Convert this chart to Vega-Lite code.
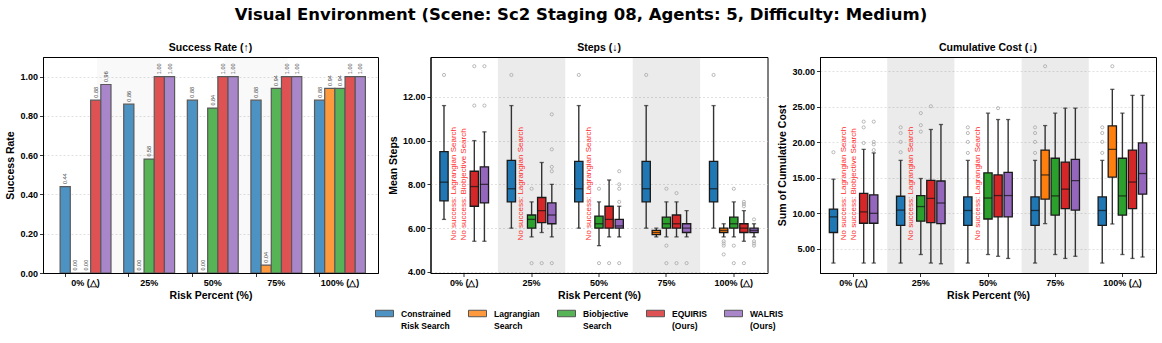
{
"$schema":"https://vega.github.io/schema/vega-lite/v6.json",
"background":"white",
"padding":{"left":5,"top":6,"right":5,"bottom":5},
"title":{"text":"Visual Environment (Scene: Sc2 Staging 08, Agents: 5, Difficulty: Medium)","font":"DejaVu Sans","fontSize":16.5,"fontWeight":"bold","anchor":"middle","frame":"bounds","offset":19},
"bounds":"flush",
"spacing":52.5,
"resolve":{"scale":{"x":"independent","xOffset":"independent","y":"independent","color":"independent","fill":"independent"}},
"datasets":{
"shade":[{"risk":"25%"},{"risk":"75%"}],
"success":[
{"risk":"0% (△)","method":"CRS","rate":0.44},{"risk":"0% (△)","method":"LAG","rate":0},{"risk":"0% (△)","method":"BIO","rate":0},{"risk":"0% (△)","method":"EQ","rate":0.88},{"risk":"0% (△)","method":"WAL","rate":0.96},
{"risk":"25%","method":"CRS","rate":0.86},{"risk":"25%","method":"LAG","rate":0},{"risk":"25%","method":"BIO","rate":0.58},{"risk":"25%","method":"EQ","rate":1.0},{"risk":"25%","method":"WAL","rate":1.0},
{"risk":"50%","method":"CRS","rate":0.88},{"risk":"50%","method":"LAG","rate":0},{"risk":"50%","method":"BIO","rate":0.84},{"risk":"50%","method":"EQ","rate":1.0},{"risk":"50%","method":"WAL","rate":1.0},
{"risk":"75%","method":"CRS","rate":0.88},{"risk":"75%","method":"LAG","rate":0.04},{"risk":"75%","method":"BIO","rate":0.94},{"risk":"75%","method":"EQ","rate":1.0},{"risk":"75%","method":"WAL","rate":1.0},
{"risk":"100% (△)","method":"CRS","rate":0.88},{"risk":"100% (△)","method":"LAG","rate":0.94},{"risk":"100% (△)","method":"BIO","rate":0.94},{"risk":"100% (△)","method":"EQ","rate":1.0},{"risk":"100% (△)","method":"WAL","rate":1.0}],
"steps":[
{"risk":"0% (△)","method":"CRS","lo":6.4,"q1":7.25,"med":8.1,"q3":9.5,"hi":11.6},
{"risk":"0% (△)","method":"EQ","lo":5.4,"q1":7.0,"med":7.9,"q3":8.6,"hi":10.0},
{"risk":"0% (△)","method":"WAL","lo":5.4,"q1":7.15,"med":8.0,"q3":8.8,"hi":10.4},
{"risk":"25%","method":"CRS","lo":6.0,"q1":7.2,"med":7.8,"q3":9.1,"hi":11.6},
{"risk":"25%","method":"BIO","lo":5.6,"q1":6.0,"med":6.4,"q3":6.6,"hi":7.2},
{"risk":"25%","method":"EQ","lo":5.8,"q1":6.25,"med":6.8,"q3":7.4,"hi":9.0},
{"risk":"25%","method":"WAL","lo":5.6,"q1":6.2,"med":6.6,"q3":7.15,"hi":8.0},
{"risk":"50%","method":"CRS","lo":6.0,"q1":7.2,"med":7.8,"q3":9.05,"hi":11.6},
{"risk":"50%","method":"BIO","lo":5.2,"q1":6.0,"med":6.2,"q3":6.55,"hi":7.2},
{"risk":"50%","method":"EQ","lo":5.6,"q1":6.0,"med":6.4,"q3":7.0,"hi":8.2},
{"risk":"50%","method":"WAL","lo":5.6,"q1":6.0,"med":6.1,"q3":6.4,"hi":7.0},
{"risk":"75%","method":"CRS","lo":6.0,"q1":7.2,"med":7.8,"q3":9.05,"hi":11.6},
{"risk":"75%","method":"LAG","lo":5.6,"q1":5.7,"med":5.8,"q3":5.9,"hi":6.0},
{"risk":"75%","method":"BIO","lo":5.6,"q1":6.0,"med":6.2,"q3":6.5,"hi":7.2},
{"risk":"75%","method":"EQ","lo":5.6,"q1":6.0,"med":6.2,"q3":6.6,"hi":7.2},
{"risk":"75%","method":"WAL","lo":5.6,"q1":5.8,"med":6.0,"q3":6.2,"hi":6.8},
{"risk":"100% (△)","method":"CRS","lo":6.0,"q1":7.2,"med":7.8,"q3":9.05,"hi":11.6},
{"risk":"100% (△)","method":"LAG","lo":5.6,"q1":5.8,"med":5.9,"q3":6.0,"hi":6.2},
{"risk":"100% (△)","method":"BIO","lo":5.6,"q1":6.0,"med":6.2,"q3":6.5,"hi":7.2},
{"risk":"100% (△)","method":"EQ","lo":5.4,"q1":5.8,"med":6.0,"q3":6.2,"hi":6.8},
{"risk":"100% (△)","method":"WAL","lo":5.6,"q1":5.8,"med":5.9,"q3":6.0,"hi":6.2}],
"steps_out":[
{"risk":"0% (△)","method":"CRS","v":13.0},{"risk":"0% (△)","method":"EQ","v":13.4},{"risk":"0% (△)","method":"EQ","v":11.6},{"risk":"0% (△)","method":"WAL","v":13.4},{"risk":"0% (△)","method":"WAL","v":11.6},
{"risk":"25%","method":"CRS","v":13.0},{"risk":"25%","method":"BIO","v":7.8},{"risk":"25%","method":"BIO","v":4.4},{"risk":"25%","method":"EQ","v":4.4},{"risk":"25%","method":"WAL","v":11.2},{"risk":"25%","method":"WAL","v":9.6},{"risk":"25%","method":"WAL","v":8.8},{"risk":"25%","method":"WAL","v":8.6},{"risk":"25%","method":"WAL","v":4.4},
{"risk":"50%","method":"CRS","v":13.0},{"risk":"50%","method":"BIO","v":7.8},{"risk":"50%","method":"BIO","v":4.4},{"risk":"50%","method":"EQ","v":4.4},{"risk":"50%","method":"WAL","v":8.6},{"risk":"50%","method":"WAL","v":8.0},{"risk":"50%","method":"WAL","v":7.8},{"risk":"50%","method":"WAL","v":7.2},{"risk":"50%","method":"WAL","v":4.4},
{"risk":"75%","method":"CRS","v":13.0},{"risk":"75%","method":"BIO","v":7.8},{"risk":"75%","method":"BIO","v":5.2},{"risk":"75%","method":"BIO","v":4.4},{"risk":"75%","method":"EQ","v":7.6},{"risk":"75%","method":"EQ","v":4.4},{"risk":"75%","method":"WAL","v":4.4},
{"risk":"100% (△)","method":"CRS","v":13.0},{"risk":"100% (△)","method":"LAG","v":5.4},{"risk":"100% (△)","method":"LAG","v":5.3},{"risk":"100% (△)","method":"LAG","v":5.2},{"risk":"100% (△)","method":"LAG","v":4.8},{"risk":"100% (△)","method":"BIO","v":7.8},{"risk":"100% (△)","method":"BIO","v":5.2},{"risk":"100% (△)","method":"BIO","v":4.4},{"risk":"100% (△)","method":"EQ","v":7.2},{"risk":"100% (△)","method":"EQ","v":7.1},{"risk":"100% (△)","method":"EQ","v":7.0},{"risk":"100% (△)","method":"EQ","v":4.4},{"risk":"100% (△)","method":"WAL","v":6.4},{"risk":"100% (△)","method":"WAL","v":5.4},{"risk":"100% (△)","method":"WAL","v":5.3},{"risk":"100% (△)","method":"WAL","v":5.2}],
"cost":[
{"risk":"0% (△)","method":"CRS","lo":3.0,"q1":7.3,"med":9.5,"q3":10.6,"hi":14.8},
{"risk":"0% (△)","method":"EQ","lo":3.0,"q1":8.6,"med":10.2,"q3":12.8,"hi":19.0},
{"risk":"0% (△)","method":"WAL","lo":3.0,"q1":8.6,"med":10.0,"q3":12.6,"hi":18.5},
{"risk":"25%","method":"CRS","lo":3.0,"q1":8.3,"med":10.45,"q3":12.4,"hi":17.45},
{"risk":"25%","method":"BIO","lo":4.2,"q1":8.9,"med":10.95,"q3":12.5,"hi":14.9},
{"risk":"25%","method":"EQ","lo":3.0,"q1":8.7,"med":12.1,"q3":14.65,"hi":21.8},
{"risk":"25%","method":"WAL","lo":2.9,"q1":8.55,"med":11.45,"q3":14.55,"hi":22.5},
{"risk":"50%","method":"CRS","lo":3.0,"q1":8.3,"med":10.4,"q3":12.3,"hi":17.45},
{"risk":"50%","method":"BIO","lo":4.2,"q1":9.2,"med":12.15,"q3":15.7,"hi":24.1},
{"risk":"50%","method":"EQ","lo":3.95,"q1":9.5,"med":12.5,"q3":15.4,"hi":23.2},
{"risk":"50%","method":"WAL","lo":3.65,"q1":9.5,"med":12.5,"q3":15.75,"hi":23.2},
{"risk":"75%","method":"CRS","lo":3.0,"q1":8.3,"med":10.4,"q3":12.3,"hi":17.45},
{"risk":"75%","method":"LAG","lo":8.55,"q1":12.0,"med":15.4,"q3":18.9,"hi":22.35},
{"risk":"75%","method":"BIO","lo":4.2,"q1":9.75,"med":12.45,"q3":17.75,"hi":24.1},
{"risk":"75%","method":"EQ","lo":3.65,"q1":10.65,"med":13.4,"q3":17.2,"hi":24.8},
{"risk":"75%","method":"WAL","lo":3.95,"q1":10.45,"med":14.6,"q3":17.6,"hi":24.8},
{"risk":"100% (△)","method":"CRS","lo":3.0,"q1":8.3,"med":10.4,"q3":12.3,"hi":17.45},
{"risk":"100% (△)","method":"LAG","lo":8.5,"q1":15.1,"med":19.0,"q3":22.3,"hi":27.45},
{"risk":"100% (△)","method":"BIO","lo":4.2,"q1":9.75,"med":12.45,"q3":17.75,"hi":24.1},
{"risk":"100% (△)","method":"EQ","lo":3.65,"q1":10.65,"med":14.4,"q3":18.9,"hi":26.6},
{"risk":"100% (△)","method":"WAL","lo":3.85,"q1":12.7,"med":15.6,"q3":19.9,"hi":26.6}],
"cost_out":[
{"risk":"0% (△)","method":"CRS","v":18.6},{"risk":"0% (△)","method":"EQ","v":22.9},{"risk":"0% (△)","method":"EQ","v":22.1},{"risk":"0% (△)","method":"EQ","v":19.9},{"risk":"0% (△)","method":"WAL","v":22.9},{"risk":"0% (△)","method":"WAL","v":20.05},{"risk":"0% (△)","method":"WAL","v":19.7},{"risk":"0% (△)","method":"WAL","v":18.9},
{"risk":"25%","method":"CRS","v":22.1},{"risk":"25%","method":"CRS","v":21.3},{"risk":"25%","method":"CRS","v":20.05},{"risk":"25%","method":"CRS","v":18.6},{"risk":"25%","method":"BIO","v":24.1},{"risk":"25%","method":"BIO","v":22.4},{"risk":"25%","method":"BIO","v":21.5},{"risk":"25%","method":"EQ","v":25.07},
{"risk":"50%","method":"CRS","v":22.1},{"risk":"50%","method":"CRS","v":21.3},{"risk":"50%","method":"CRS","v":20.05},{"risk":"50%","method":"CRS","v":18.5},{"risk":"50%","method":"EQ","v":24.8},
{"risk":"75%","method":"CRS","v":22.1},{"risk":"75%","method":"CRS","v":21.3},{"risk":"75%","method":"CRS","v":20.05},{"risk":"75%","method":"CRS","v":18.5},{"risk":"75%","method":"LAG","v":30.7},
{"risk":"100% (△)","method":"CRS","v":22.1},{"risk":"100% (△)","method":"CRS","v":21.3},{"risk":"100% (△)","method":"CRS","v":20.05},{"risk":"100% (△)","method":"CRS","v":18.5},{"risk":"100% (△)","method":"LAG","v":30.7}],
"nosuccess":[
{"risk":"0% (△)","method":"LAG","label":"No success: Lagrangian Search"},
{"risk":"0% (△)","method":"BIO","label":"No success: Biobjective Search"},
{"risk":"25%","method":"LAG","label":"No success: Lagrangian Search"},
{"risk":"50%","method":"LAG","label":"No success: Lagrangian Search"}]
},
"hconcat":[
{"width":335,"height":216,"title":"Success Rate (↑)",
"layer":[
{"data":{"name":"shade"},"mark":{"type":"rect","color":"black","opacity":0.025},
"encoding":{"x":{"field":"risk","type":"nominal","bandPosition":-0.525,"scale":{"domain":["0% (△)","25%","50%","75%","100% (△)"],"paddingInner":0.2,"paddingOuter":0.2335,"align":0.576},"axis":{"title":"Risk Percent (%)","bandPosition":0.1,"labelAngle":0}},"x2":{"field":"risk","bandPosition":0.725}}},
{"data":{"name":"success"},"mark":{"type":"bar","stroke":"#595959","strokeWidth":1.2},
"encoding":{
"x":{"field":"risk","type":"nominal","scale":{"domain":["0% (△)","25%","50%","75%","100% (△)"],"paddingInner":0.2,"paddingOuter":0.2335,"align":0.576},"axis":{"title":"Risk Percent (%)","bandPosition":0.1,"labelAngle":0}},
"xOffset":{"field":"method","type":"nominal","scale":{"domain":["CRS","LAG","BIO","EQ","WAL"],"paddingInner":0,"paddingOuter":0}},
"y":{"field":"rate","type":"quantitative","scale":{"domain":[0,1.1],"nice":false},"axis":{"title":"Success Rate","values":[0,0.2,0.4,0.6,0.8,1.0],"format":".2f"}},
"fill":{"field":"method","type":"nominal","scale":{"domain":["CRS","LAG","BIO","EQ","WAL"],"range":["#4c92c3","#ff993e","#56b356","#de5253","#a985ca"]},
"legend":{"orient":"none","legendX":332,"legendY":247,"direction":"horizontal","columns":5,"title":null,"symbolType":"M-1,-0.36H1V0.36H-1Z","symbolSize":324,"symbolStrokeColor":"#555555","symbolStrokeWidth":1,"symbolOpacity":1,"labelFontSize":8.5,"labelFontWeight":"bold","labelFont":"Liberation Sans","labelColor":"black","labelOffset":7,"columnPadding":15,"labelLimit":0,"labelBaseline":"top",
"labelExpr":"datum.label == 'CRS' ? ['Constrained','Risk Search'] : datum.label == 'LAG' ? ['Lagrangian','Search'] : datum.label == 'BIO' ? ['Biobjective','Search'] : datum.label == 'EQ' ? ['EQUIRIS','\u00a0\u00a0(Ours)'] : ['WALRIS','\u00a0(Ours)']",
"encode":{"labels":{"update":{"dy":{"value":-4},"lineHeight":{"value":12}}}}}}}},
{"data":{"name":"success"},"mark":{"type":"text","angle":270,"align":"left","baseline":"middle","dx":2.5,"fontSize":5.5,"color":"#444444","font":"Liberation Sans"},
"encoding":{
"x":{"field":"risk","type":"nominal","scale":{"domain":["0% (△)","25%","50%","75%","100% (△)"],"paddingInner":0.2,"paddingOuter":0.2335,"align":0.576},"axis":{"title":"Risk Percent (%)","bandPosition":0.1,"labelAngle":0}},
"xOffset":{"field":"method","type":"nominal","scale":{"domain":["CRS","LAG","BIO","EQ","WAL"],"paddingInner":0,"paddingOuter":0}},
"y":{"field":"rate","type":"quantitative"},
"text":{"field":"rate","type":"quantitative","format":".2f"}}}
]},
{"width":337,"height":216,"title":"Steps (↓)",
"encoding":{
"x":{"field":"risk","type":"nominal","scale":{"domain":["0% (△)","25%","50%","75%","100% (△)"],"paddingInner":0,"paddingOuter":0},"axis":{"title":"Risk Percent (%)","labelAngle":0}},
"xOffset":{"field":"method","type":"nominal","scale":{"domain":["CRS","LAG","BIO","EQ","WAL"],"paddingInner":0.18,"paddingOuter":0.925}}},
"layer":[
{"data":{"name":"shade"},"mark":{"type":"rect","color":"black","opacity":0.078},
"encoding":{"x":{"field":"risk","type":"nominal","scale":{"domain":["0% (△)","25%","50%","75%","100% (△)"],"paddingInner":0,"paddingOuter":0},"axis":{"title":"Risk Percent (%)","labelAngle":0}},"xOffset":{"value":0}}},
{"data":{"name":"steps"},"mark":{"type":"rule","color":"#333333","strokeWidth":1.4},
"encoding":{"y":{"field":"lo","type":"quantitative","scale":{"domain":[3.95,13.82],"nice":false,"zero":false}},"y2":{"field":"hi"}}},
{"data":{"name":"steps"},"mark":{"type":"tick","color":"#222222","size":4.2,"thickness":1.3},
"encoding":{"y":{"field":"lo","type":"quantitative"}}},
{"data":{"name":"steps"},"mark":{"type":"tick","color":"#222222","size":4.2,"thickness":1.3},
"encoding":{"y":{"field":"hi","type":"quantitative"}}},
{"data":{"name":"steps"},"mark":{"type":"bar","stroke":"#1a1a1a","strokeWidth":1.3},
"encoding":{
"y":{"field":"q1","type":"quantitative","scale":{"domain":[3.95,13.82],"nice":false,"zero":false},"axis":{"title":"Mean Steps","values":[4,6,8,10,12],"format":".2f"}},"y2":{"field":"q3"},
"color":{"field":"method","type":"nominal","scale":{"domain":["CRS","LAG","BIO","EQ","WAL"],"range":["#1f77b4","#ff7f0e","#2ca02c","#d62728","#9467bd"]},"legend":null}}},
{"data":{"name":"steps"},"mark":{"type":"tick","color":"#111111","size":8.3,"thickness":1.3},
"encoding":{"y":{"field":"med","type":"quantitative"}}},
{"data":{"name":"steps_out"},"mark":{"type":"point","filled":false,"size":10,"stroke":"#a8a8a8","strokeWidth":0.8,"opacity":1},
"encoding":{"y":{"field":"v","type":"quantitative"}}},
{"data":{"name":"nosuccess"},"mark":{"type":"text","angle":270,"align":"left","baseline":"middle","fontSize":8,"color":"#ff2a2a","font":"Liberation Sans"},
"encoding":{"y":{"datum":5.44,"type":"quantitative"},"text":{"field":"label"}}}
]},
{"width":336,"height":216,"title":"Cumulative Cost (↓)",
"encoding":{
"x":{"field":"risk","type":"nominal","scale":{"domain":["0% (△)","25%","50%","75%","100% (△)"],"paddingInner":0,"paddingOuter":0},"axis":{"title":"Risk Percent (%)","labelAngle":0}},
"xOffset":{"field":"method","type":"nominal","scale":{"domain":["CRS","LAG","BIO","EQ","WAL"],"paddingInner":0.18,"paddingOuter":0.925}}},
"layer":[
{"data":{"name":"shade"},"mark":{"type":"rect","color":"black","opacity":0.078},
"encoding":{"x":{"field":"risk","type":"nominal","scale":{"domain":["0% (△)","25%","50%","75%","100% (△)"],"paddingInner":0,"paddingOuter":0},"axis":{"title":"Risk Percent (%)","labelAngle":0}},"xOffset":{"value":0}}},
{"data":{"name":"cost"},"mark":{"type":"rule","color":"#333333","strokeWidth":1.4},
"encoding":{"y":{"field":"lo","type":"quantitative","scale":{"domain":[1.6,32.0],"nice":false,"zero":false}},"y2":{"field":"hi"}}},
{"data":{"name":"cost"},"mark":{"type":"tick","color":"#222222","size":4.2,"thickness":1.3},
"encoding":{"y":{"field":"lo","type":"quantitative"}}},
{"data":{"name":"cost"},"mark":{"type":"tick","color":"#222222","size":4.2,"thickness":1.3},
"encoding":{"y":{"field":"hi","type":"quantitative"}}},
{"data":{"name":"cost"},"mark":{"type":"bar","stroke":"#1a1a1a","strokeWidth":1.3},
"encoding":{
"y":{"field":"q1","type":"quantitative","scale":{"domain":[1.6,32.0],"nice":false,"zero":false},"axis":{"title":"Sum of Cumulative Cost","values":[5,10,15,20,25,30],"format":".2f"}},"y2":{"field":"q3"},
"color":{"field":"method","type":"nominal","scale":{"domain":["CRS","LAG","BIO","EQ","WAL"],"range":["#1f77b4","#ff7f0e","#2ca02c","#d62728","#9467bd"]},"legend":null}}},
{"data":{"name":"cost"},"mark":{"type":"tick","color":"#111111","size":8.3,"thickness":1.3},
"encoding":{"y":{"field":"med","type":"quantitative"}}},
{"data":{"name":"cost_out"},"mark":{"type":"point","filled":false,"size":10,"stroke":"#a8a8a8","strokeWidth":0.8,"opacity":1},
"encoding":{"y":{"field":"v","type":"quantitative"}}},
{"data":{"name":"nosuccess"},"mark":{"type":"text","angle":270,"align":"left","baseline":"middle","fontSize":8,"color":"#ff2a2a","font":"Liberation Sans"},
"encoding":{"y":{"datum":6.2,"type":"quantitative"},"text":{"field":"label"}}}
]}
],
"config":{
"font":"Liberation Sans",
"view":{"stroke":"black","strokeWidth":1},
"title":{"fontSize":10.5,"fontWeight":"bold","color":"black","offset":4,"font":"Liberation Sans"},
"axis":{"labelFont":"Liberation Sans","labelFontSize":9,"labelFontWeight":"bold","labelColor":"black","titleFont":"Liberation Sans","titleFontSize":10.5,"titleFontWeight":"bold","titleColor":"black","tickColor":"black","domainColor":"black","tickSize":3.5,"labelPadding":2,"titlePadding":4,"domainWidth":1,"tickWidth":0.8},
"axisY":{"grid":true,"gridDash":[2,2],"gridColor":"#cccccc","gridWidth":0.6},
"axisX":{"grid":false,"labelAngle":0,"titlePadding":3},
"legend":{"padding":0}
}
}
